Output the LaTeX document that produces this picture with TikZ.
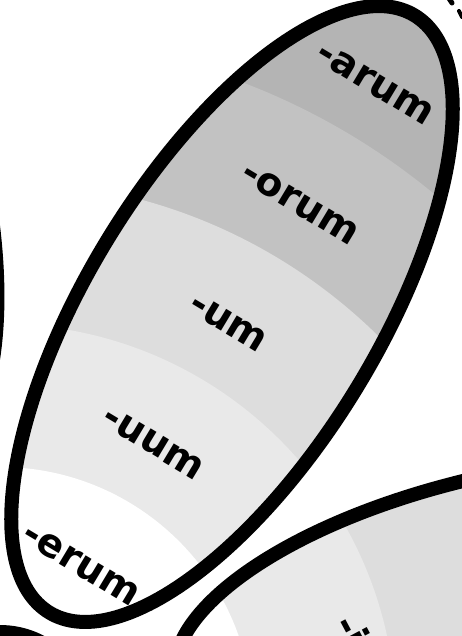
\documentclass[tikz,border=0pt]{standalone}
\usepackage{fontspec}
\setmainfont{DejaVu Sans}
\usepackage{xcolor}
\definecolor{declone}{HTML}{B4B4B4}
\definecolor{decltwo}{HTML}{C2C2C2}
\definecolor{declthree}{HTML}{DDDDDD}
\definecolor{declfour}{HTML}{E9E9E9}
\definecolor{declfive}{HTML}{FFFFFF}
\usetikzlibrary{calc}

\begin{document}
\begin{tikzpicture}[
  x=1pt, y=-1pt,
  petal/.style={draw=black, line width=14pt},
  ending/.style={font=\bfseries\fontsize{39}{39}\selectfont, inner sep=0pt, rotate=#1},
  ending/.default=-31,
]
  \useasboundingbox (0,0) rectangle (461,636);
  \coordinate (hub) at (0,720);

  % Genitive petal: bands, outline
  \begin{scope}
    \clip[rotate around={58.5:(232,314)}] (232,314) ellipse [x radius=350, y radius=145];
    \foreach \r/\c in {900/declone, 682/decltwo, 539/declthree, 396/declfour, 253/declfive}
      \fill[\c] (hub) circle (\r);
  \end{scope}
  \draw[petal, rotate around={58.5:(232,314)}] (232,314) ellipse [x radius=350, y radius=145];

  % Dative/ablative petal
  \begin{scope}
    \clip[rotate around={12:(518,610)}] (518,610) ellipse [x radius=350, y radius=138];
    \foreach \r/\c in {900/declone, 682/decltwo, 539/declthree, 396/declfour, 253/declfive}
      \fill[\c] (hub) circle (\r);
  \end{scope}
  \draw[petal, rotate around={12:(518,610)}] (518,610) ellipse [x radius=350, y radius=138];

  % Neighbouring petal and hub
  \draw[petal, rotate around={107:(-178,137)}] (-178,137) ellipse [x radius=350, y radius=149];
  \draw[petal, fill=white] (hub) circle (88);

  % Endings
  \node[ending] (arum) at (375,84) {-arum};
  \node[ending] (orum) at (300,204) {-orum};
  \node[ending] (um)   at (228,323) {-um};
  \node[ending] (uum)  at (153,443) {-uum};
  \node[ending] (erum) at (81,565)  {-erum};
  \node[ending=-62, anchor=base west] (ibus) at (332,624) {-i};

  % bits of a label beyond the edge
  \draw[line width=5pt, line cap=round] (446,-6) -- (452,3);
  \draw[line width=4pt, line cap=round] (459,11) -- (462,17);
\end{tikzpicture}
\end{document}
